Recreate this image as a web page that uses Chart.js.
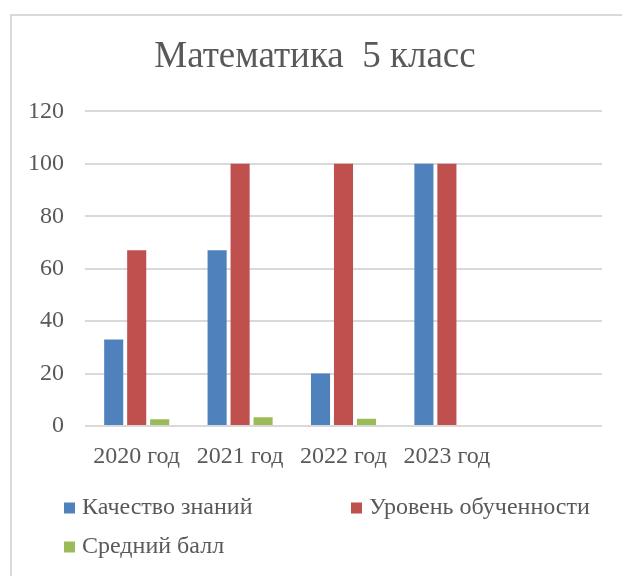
<!DOCTYPE html>
<html lang="ru">
<head>
<meta charset="utf-8">
<title>Математика 5 класс</title>
<script src="https://cdn.jsdelivr.net/npm/chart.js@4/dist/chart.umd.min.js"></script>
<style>
    html, body { margin: 0; padding: 0; background: #ffffff; overflow: hidden; }
    #chart { display: block; }
</style>
</head>
<body>
<canvas id="chart" width="622" height="576"></canvas>
<script>
// ==========================================
// Data
// ==========================================

const categories = ['2020 год', '2021 год', '2022 год', '2023 год', ''];
const seriesNames = ['Качество знаний', 'Уровень обученности', 'Средний балл'];
const qualityValues = [33, 67, 20, 100, null];
const levelValues = [67, 100, 100, 100, null];
const avgScoreValues = [2.6, 3.3, 2.8, null, null];
const yTicks = [0, 20, 40, 60, 80, 100, 120];

const seriesColors = ['#4f81bd', '#c0504d', '#9bbb59'];
const textColor = '#595959';
const gridColor = '#d9d9d9';
const fontFamily = '"Liberation Serif", "Times New Roman", serif';

// ==========================================
// Plugins
// ==========================================

// Light frame round the chart (only top and left edges are visible in the picture)
const chartFrame = {
    id: 'chartFrame',
    beforeDraw(chart) {
        const ctx = chart.ctx;
        ctx.save();
        ctx.strokeStyle = gridColor;
        ctx.lineWidth = 2;
        ctx.beginPath();
        ctx.moveTo(11, chart.height);
        ctx.lineTo(11, 15);
        ctx.lineTo(chart.width, 15);
        ctx.stroke();
        ctx.restore();
    }
};

// Legend laid out in two columns, like the office chart
const gridLegend = {
    id: 'gridLegend',
    afterDraw(chart, args, opts) {
        const ctx = chart.ctx;
        ctx.save();
        ctx.font = opts.font;
        ctx.textBaseline = 'middle';
        chart.data.datasets.forEach((ds, i) => {
            const col = i % opts.columns.length;
            const row = Math.floor(i / opts.columns.length);
            const x = opts.columns[col];
            const y = opts.rows[row];
            ctx.fillStyle = ds.backgroundColor;
            ctx.fillRect(x, y - opts.box / 2, opts.box, opts.box);
            ctx.fillStyle = opts.color;
            ctx.fillText(ds.label, x + opts.textOffset, y);
        });
        ctx.restore();
    }
};

// ==========================================
// Chart
// ==========================================

const makeDataset = (i, values) => ({
    label: seriesNames[i],
    data: values,
    backgroundColor: seriesColors[i],
    borderWidth: 0,
    barPercentage: 0.83,
    categoryPercentage: 0.667
});

// keep axis sizes fixed so the plot area lands where the original one is
const fixX = (axis) => { axis.height = 44; axis.paddingLeft = 0; axis.paddingRight = 0; };
const fixY = (axis) => { axis.width = 57; axis.paddingTop = 0; axis.paddingBottom = 0; };

const ctx = document.getElementById('chart').getContext('2d');
new Chart(ctx, {
    type: 'bar',
    data: {
        labels: categories,
        datasets: [
            makeDataset(0, qualityValues),
            makeDataset(1, levelValues),
            makeDataset(2, avgScoreValues)
        ]
    },
    options: {
        responsive: false,
        animation: false,
        layout: { padding: { left: 28, right: 20, top: 0, bottom: 106 } },
        plugins: {
            legend: { display: false },
            tooltip: { enabled: false },
            title: {
                display: true,
                text: 'Математика  5 класс',
                color: textColor,
                font: { family: fontFamily, size: 37, weight: 'normal' },
                padding: { top: 35, bottom: 32 }
            },
            gridLegend: {
                font: 'normal 24px ' + fontFamily,
                color: textColor,
                columns: [64, 351],
                rows: [508, 547],
                box: 11,
                textOffset: 18
            }
        },
        scales: {
            x: {
                afterFit: fixX,
                grid: { display: false, drawTicks: false },
                border: { display: false },
                ticks: {
                    color: textColor,
                    font: { family: fontFamily, size: 24 },
                    padding: 16,
                    maxRotation: 0,
                    autoSkip: false
                }
            },
            y: {
                min: 0,
                max: 120,
                afterFit: fixY,
                afterBuildTicks: (axis) => { axis.ticks = yTicks.map(v => ({ value: v })); },
                grid: { color: gridColor, lineWidth: 2, drawTicks: false },
                border: { display: false },
                ticks: {
                    color: textColor,
                    font: { family: fontFamily, size: 24 },
                    padding: 21
                }
            }
        }
    },
    plugins: [chartFrame, gridLegend]
});
</script>
</body>
</html>
